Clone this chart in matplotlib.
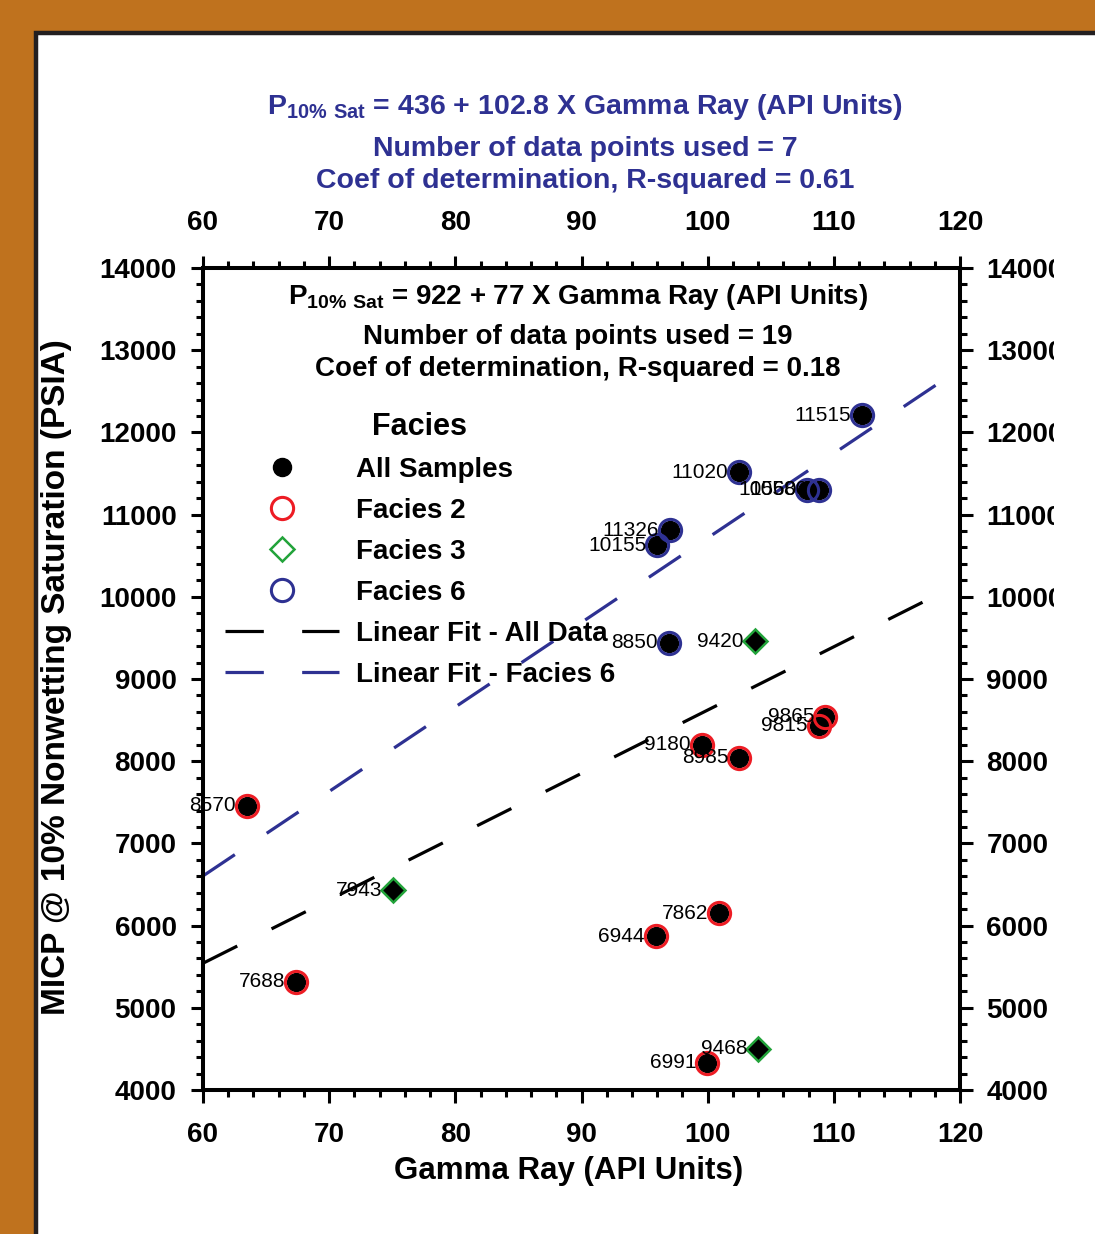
import numpy as np
import matplotlib.pyplot as plt
from matplotlib.lines import Line2D
from matplotlib.patches import Rectangle

# Facies 2 samples (red rings)
f2_gr = [109.3, 108.8, 99.55, 102.5, 63.5, 100.9, 95.9, 67.4, 99.95]
f2_p = [8540, 8430, 8200, 8040, 7455, 6150, 5870, 5315, 4330]
f2_lab = ['9865', '9815', '9180', '8985', '8570', '7862', '6944', '7688', '6991']

# Facies 3 samples (green diamonds)
f3_gr = [103.75, 75.06, 104.0]
f3_p = [9460, 6430, 4500]
f3_lab = ['9420', '7943', '9468']

# Facies 6 samples (blue rings)
f6_gr = [112.2, 102.5, 107.9, 108.8, 97.0, 96.0, 96.9]
f6_p = [12210, 11515, 11300, 11300, 10810, 10630, 9440]
f6_lab = ['11515', '11020', '10560', '10580', '11326', '10155', '8850']

# fit coefficients shown on the chart
fit_all = (922, 77)
fit_f6 = (436, 102.8)
fit_range = [60, 118.5]

xticks = [60, 70, 80, 90, 100, 110, 120]
yticks = [4000, 5000, 6000, 7000, 8000, 9000, 10000, 11000, 12000, 13000, 14000]

RED = '#ed1c24'
GREEN = '#22a33a'
BLUE = '#2e3192'

plt.rcParams['font.family'] = ['Liberation Sans', 'DejaVu Sans']
plt.rcParams['font.weight'] = 'bold'

W, H = 1095, 1234
fig = plt.figure(figsize=(W / 100, H / 100), dpi=100)
fig.patch.set_facecolor('#bf721e')


def fx(px):
    return px / W


def fy(py):
    return 1 - py / H


# white panel with dark frame
fig.add_artist(Rectangle((fx(36), -0.05), 1.1, fy(32.5) + 0.05, transform=fig.transFigure,
                         facecolor='white', edgecolor='#231f20', lw=3.2, zorder=-1))

ax = fig.add_axes([fx(203), fy(1090), fx(960) - fx(203), fy(268) - fy(1090)])
ax.set_xlim(60, 120)
ax.set_ylim(4000, 14000)
ax.set_xticks(xticks)
ax.set_yticks(yticks)
ax.set_xticks(np.arange(60, 121, 2), minor=True)
ax.set_yticks(np.arange(4000, 14001, 200), minor=True)
ax.tick_params(which='both', direction='out', top=True, right=True, labeltop=True,
               labelright=True, width=2.2, labelsize=20)
ax.tick_params(which='major', length=9)
ax.tick_params(which='minor', length=5)
ax.tick_params(axis='x', which='major', pad=14)
ax.tick_params(axis='y', which='major', pad=10)
for s in ax.spines.values():
    s.set_linewidth(2.9)

ax.set_xlabel('Gamma Ray (API Units)', fontsize=22.5, fontweight='bold', va='center')
ax.xaxis.set_label_coords(0.4835, -0.099)
ax.set_ylabel('MICP @ 10% Nonwetting Saturation (PSIA)', fontsize=24, fontweight='bold',
              va='center')
ax.yaxis.set_label_coords(-0.194, 0.502)

# fit lines
xs = np.array(fit_range)
ax.plot(xs, fit_all[0] + fit_all[1] * xs, color='black', lw=2.3, dashes=(12, 12), zorder=2)
ax.plot(xs, fit_f6[0] + fit_f6[1] * xs, color=BLUE, lw=2.3, dashes=(12, 12), zorder=2)

# all samples (black dots)
all_gr = f2_gr + f6_gr
all_p = f2_p + f6_p
ax.plot(all_gr, all_p, 'o', color='black', ms=13, zorder=3)
ax.plot(f2_gr, f2_p, 'o', mfc='none', mec=RED, mew=2.2, ms=16, zorder=4)
ax.plot(f6_gr, f6_p, 'o', mfc='none', mec=BLUE, mew=2.2, ms=16, zorder=4)
ax.plot(f3_gr, f3_p, 'D', mfc='black', mec=GREEN, mew=1.8, ms=12, zorder=4)

# sample depth labels
for gx, p, t in zip(f2_gr + f3_gr + f6_gr, f2_p + f3_p + f6_p, f2_lab + f3_lab + f6_lab):
    ax.annotate(t, (gx, p), xytext=(-11, 0), textcoords='offset pixels', ha='right',
                va='center', fontsize=15, fontweight='normal', zorder=5)

# legend
handles = [
    Line2D([], [], marker='o', color='black', ls='none', ms=13),
    Line2D([], [], marker='o', mfc='none', mec=RED, mew=2.2, ms=16, ls='none'),
    Line2D([], [], marker='D', mfc='none', mec=GREEN, mew=1.8, ms=12, ls='none'),
    Line2D([], [], marker='o', mfc='none', mec=BLUE, mew=2.2, ms=16, ls='none'),
    Line2D([], [], color='black', lw=2.3, dashes=(12, 12)),
    Line2D([], [], color=BLUE, lw=2.3, dashes=(12, 12)),
]
labels = ['All Samples', 'Facies 2', 'Facies 3', 'Facies 6',
          'Linear Fit - All Data', 'Linear Fit - Facies 6']
leg = ax.legend(handles, labels, loc='upper left', bbox_to_anchor=(0.029, 0.825),
                frameon=False, fontsize=20, title='Facies', numpoints=1,
                handlelength=4.1, handletextpad=0.6, labelspacing=0.54,
                borderpad=0, borderaxespad=0,
                title_fontproperties={'size': 22, 'weight': 'bold'})

# fit statistics inside the plot
ax_lines = [r'$\mathregular{P_{10\%\ Sat}}$ = 922 + 77 X Gamma Ray (API Units)',
            'Number of data points used = 19',
            'Coef of determination, R-squared = 0.18']
for t, py in zip(ax_lines, [297, 337, 369]):
    fig.text(fx(578), fy(py), t, ha='center', va='center', fontsize=20, color='black')

top_lines = [r'$\mathregular{P_{10\%\ Sat}}$ = 436 + 102.8 X Gamma Ray (API Units)',
             'Number of data points used = 7',
             'Coef of determination, R-squared = 0.61']
for t, py in zip(top_lines, [107, 149, 181]):
    fig.text(fx(585), fy(py), t, ha='center', va='center', fontsize=20.5, color=BLUE)

# the right axis labels are cut off in the source image
fig.add_artist(Rectangle((fx(1054), fy(1110)), 1, fy(240) - fy(1110), transform=fig.transFigure,
                         facecolor='white', edgecolor='none', zorder=5))

fig.savefig('out.png', dpi=100, facecolor=fig.get_facecolor())
